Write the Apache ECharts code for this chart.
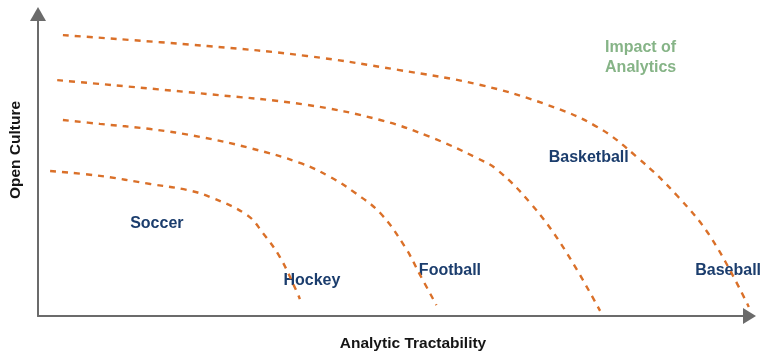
<!DOCTYPE html>
<html>
<head>
<meta charset="utf-8">
<script src="https://cdn.jsdelivr.net/npm/echarts@6/dist/echarts.min.js"></script>
<style>
html,body{margin:0;padding:0;background:#fff;}
#c{width:770px;height:356px;}
</style>
</head>
<body>
<div id="c"></div>
<script>
// Curves: [analytic tractability, open culture] in 0-100 units
var soccerHockey = [[1.7,48.0],[8.7,46.4],[15.8,43.7],[21.0,41.7],[24.2,39.4],[29.4,33.4],[31.6,27.5],[34.0,19.5],[36.4,7.9],[36.8,5.6]];
var football = [[3.5,64.9],[8.7,63.6],[15.8,61.9],[22.8,59.3],[29.8,55.6],[36.8,50.7],[41.1,46.0],[44.6,40.7],[48.1,34.1],[51.6,22.8],[53.7,13.6],[56.0,3.6]];
var basketball = [[2.7,78.1],[23.8,73.5],[37.8,69.9],[48.1,64.9],[55.1,59.3],[61.7,52.3],[64.6,48.3],[69.2,37.4],[73.8,22.8],[79.0,1.7]];
var baseball = [[3.5,93.0],[23.8,89.4],[37.8,86.1],[50.6,81.5],[62.2,76.5],[71.6,69.9],[78.6,62.6],[84.2,52.6],[90.0,39.4],[94.8,25.2],[99.9,3.0]];

var sportLabels = ['Soccer','Hockey','Football','Basketball','Baseball'];
var sportLabelPos = [[16.7,30.5],[38.5,11.6],[57.9,14.9],[77.4,52.6],[97.0,14.9]];
var impactLabel = 'Impact of\nAnalytics';
var impactPos = [79.7,85.5];
var xTitle = 'Analytic Tractability';
var yTitle = 'Open Culture';

var chart = echarts.init(document.getElementById('c'), null, {renderer:'canvas'});
var ORANGE = '#da7029';
function curve(d){
  return {type:'line', data:d, smooth:0.4, symbol:'none', silent:true,
    lineStyle:{color:ORANGE, width:2.4, type:[6,6]}};
}
var FONT = '"Liberation Sans", Arial, sans-serif';
chart.setOption({
  animation:false,
  grid:{left:38, right:20.5, top:14, bottom:40, containLabel:false},
  xAxis:{type:'value', min:0, max:100, splitLine:{show:false}, axisTick:{show:false}, axisLabel:{show:false},
    axisLine:{show:true, symbol:['none','triangle'], symbolSize:[16,13], lineStyle:{color:'#6b6b6b', width:2}}},
  yAxis:{type:'value', min:0, max:100, splitLine:{show:false}, axisTick:{show:false}, axisLabel:{show:false},
    axisLine:{show:true, symbol:['none','triangle'], symbolSize:[16,14], lineStyle:{color:'#6b6b6b', width:2}}},
  graphic:[
    {type:'text', x:413, y:344, style:{text:xTitle, font:'bold 15.5px '+FONT, fill:'#151515', align:'center', verticalAlign:'middle'}},
    {type:'text', x:16, y:150, rotation:Math.PI/2, style:{text:yTitle, font:'bold 15.5px '+FONT, fill:'#151515', align:'center', verticalAlign:'middle'}}
  ],
  series:[
    curve(soccerHockey), curve(football), curve(basketball), curve(baseball),
    {type:'scatter', symbolSize:0, silent:true, itemStyle:{opacity:1},
      data:sportLabels.map(function(n,i){return {name:n, value:sportLabelPos[i]};}),
      label:{show:true, position:'inside', formatter:'{b}', color:'#1b3d6d', fontSize:16, fontWeight:'bold', fontFamily:FONT}},
    {type:'scatter', symbolSize:0, silent:true, itemStyle:{opacity:1},
      data:[{name:impactLabel, value:impactPos}],
      label:{show:true, position:'right', distance:0, align:'left', formatter:'{b}', color:'#86b487', fontSize:16, fontWeight:'bold', fontFamily:FONT, lineHeight:20}}
  ]
});
</script>
</body>
</html>
